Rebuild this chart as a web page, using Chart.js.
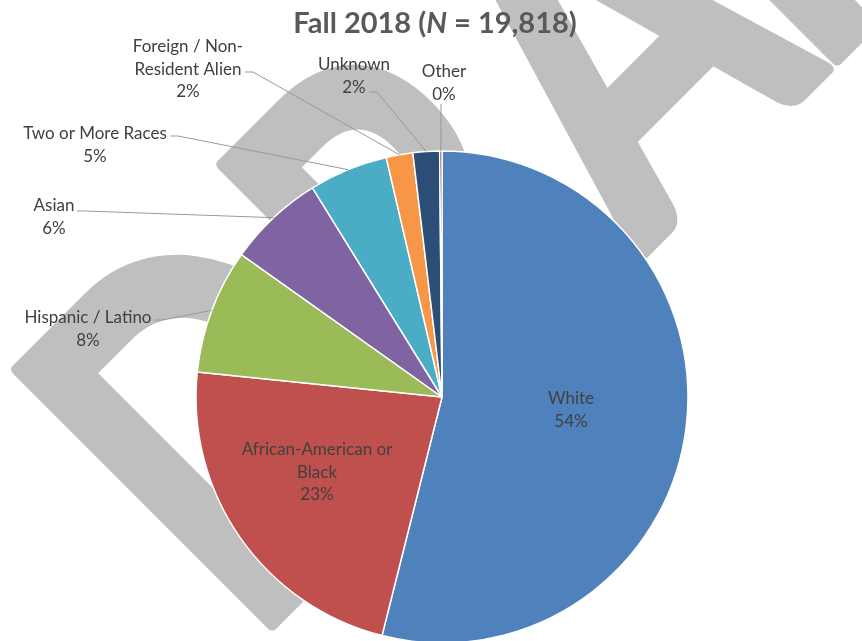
<!DOCTYPE html>
<html>
<head>
<meta charset="utf-8">
<script src="https://cdn.jsdelivr.net/npm/chart.js@4"></script>
<style>
  html, body { margin: 0; padding: 0; background: #fff; overflow: hidden; }
  #wrap { width: 862px; height: 641px; position: relative; }
</style>
</head>
<body>
<div id="wrap"><canvas id="pie"></canvas></div>
<script>
// enrollment by race / ethnicity, Fall 2018
var categories = [
    "White",
    ["African-American or", "Black"],
    "Hispanic / Latino",
    "Asian",
    "Two or More Races",
    ["Foreign / Non-", "Resident Alien"],
    "Unknown",
    "Other"
];
var students = [10686, 4500, 1625, 1258, 1027, 347, 345, 30];
var totalN = "19,818";

var sliceColors = ["#4f81bd", "#c0504d", "#9bbb59", "#8064a2", "#4bacc6", "#f79646", "#2c4d75", "#772c2a"];

// label placement (text centre of first line) and where the leader line leaves the label
var labelCenters = [[571, 399], [317, 450], [88, 318], [54, 206], [95, 134], [188, 47], [354, 65], [444, 72]];
var leaderStarts = [null, null, [154, 320], [77, 211], [170, 136], [245, 72], [369, 92], [441, 104]];

var labelFont = "17px Lato";
var lineHeight = 22.5;

// big grey DRAFT stamp behind everything
var watermark = {
    id: "watermark",
    beforeDraw: function(chart) {
        var ctx = chart.ctx;
        var lw = 10;
        ctx.save();
        ctx.fillStyle = "#bfbfbf";
        ctx.strokeStyle = "#bfbfbf";
        ctx.lineJoin = "round";
        ctx.lineWidth = lw;
        ctx.font = "bold 400px Lato";
        var cap = ctx.measureText("D").actualBoundingBoxAscent;
        var sy = 378 / (cap + lw);
        var sx = 794 / ctx.measureText("DRA").width;
        // baseline runs up-right at 45 degrees, along the line x + y = 905
        ctx.translate(452.5, 452.5);
        ctx.rotate(-Math.PI / 4);
        ctx.scale(sx, sy);
        var letters = ["D", "R", "A", "F", "T"];
        var targets = [-256, 34, 262, 543, 790];
        letters.forEach(function(ch, i) {
            var m = ctx.measureText(ch);
            var x = targets[i] / sx + m.actualBoundingBoxLeft + lw / 2;
            ctx.strokeText(ch, x, -lw / 2);
            ctx.fillText(ch, x, -lw / 2);
        });
        ctx.restore();
    },
    beforeDatasetsDraw: function(chart) {
        // title, drawn over the stamp
        var ctx = chart.ctx;
        ctx.save();
        ctx.fillStyle = "#595959";
        ctx.textBaseline = "alphabetic";
        var parts = [["Fall 2018 (", "bold 29px Lato"], ["N", "italic bold 29px Lato"], [" = " + totalN + ")", "bold 29px Lato"]];
        var w = 0;
        parts.forEach(function(p) { ctx.font = p[1]; w += ctx.measureText(p[0]).width; });
        var x = 435 - w / 2;
        parts.forEach(function(p) {
            ctx.font = p[1];
            ctx.fillText(p[0], x, 33);
            x += ctx.measureText(p[0]).width;
        });
        ctx.restore();
    }
};

var sliceLabels = {
    id: "sliceLabels",
    afterDatasetsDraw: function(chart) {
        var ctx = chart.ctx;
        var meta = chart.getDatasetMeta(0);
        var data = chart.data.datasets[0].data;
        var sum = data.reduce(function(a, b) { return a + b; }, 0);
        ctx.save();

        // leader lines
        ctx.strokeStyle = "#999999";
        ctx.lineWidth = 1;
        meta.data.forEach(function(arc, i) {
            var from = leaderStarts[i];
            if (!from) return;
            var p = arc.getProps(["x", "y", "startAngle", "endAngle", "outerRadius"], true);
            var mid = (p.startAngle + p.endAngle) / 2;
            var tx = p.x + Math.cos(mid) * p.outerRadius;
            var ty = p.y + Math.sin(mid) * p.outerRadius;
            ctx.beginPath();
            ctx.moveTo(from[0], from[1]);
            if (Math.abs(tx - from[0]) > 10) {
                ctx.lineTo(from[0] + (tx > from[0] ? 8 : -8), from[1]);
            }
            ctx.lineTo(tx, ty);
            ctx.stroke();
        });

        // label text
        ctx.fillStyle = "#404040";
        ctx.font = labelFont;
        ctx.textAlign = "center";
        ctx.textBaseline = "middle";
        chart.data.labels.forEach(function(lbl, i) {
            var lines = Array.isArray(lbl) ? lbl.slice() : [lbl];
            lines.push(Math.round(data[i] / sum * 100) + "%");
            var c = labelCenters[i];
            lines.forEach(function(t, j) {
                ctx.fillText(t, c[0], c[1] + j * lineHeight);
            });
        });
        ctx.restore();
    }
};

var chart = new Chart(document.getElementById("pie").getContext("2d"), {
    type: "pie",
    data: {
        labels: categories,
        datasets: [{
            data: students,
            backgroundColor: sliceColors,
            borderColor: "#ffffff",
            borderWidth: 1.5
        }]
    },
    options: {
        responsive: true,
        maintainAspectRatio: false,
        animation: false,
        radius: 246,
        layout: { padding: { top: 153, left: 22, right: 0, bottom: 0 } },
        plugins: {
            legend: { display: false },
            title: { display: false },
            tooltip: { enabled: false }
        }
    },
    plugins: [watermark, sliceLabels]
});
</script>
</body>
</html>
